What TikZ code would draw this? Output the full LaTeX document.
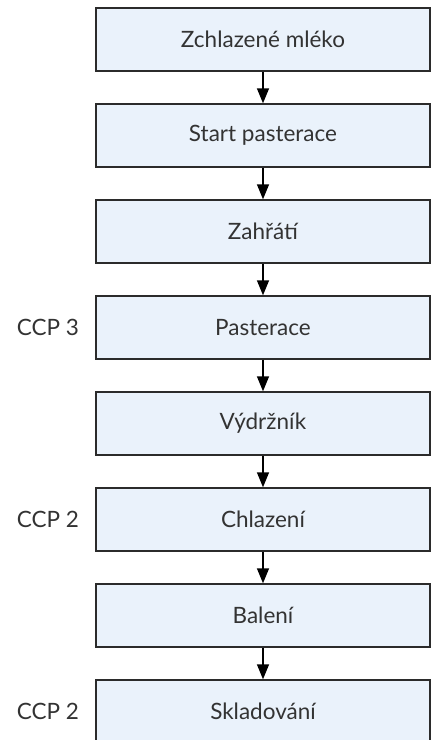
\documentclass[tikz,border=0pt]{standalone}
\usepackage{fontspec}
\setmainfont{Lato}
\usetikzlibrary{arrows.meta}

\definecolor{boxfill}{HTML}{EAF2FB}
\definecolor{boxline}{HTML}{2B2B2B}
\definecolor{txt}{HTML}{333333}

\begin{document}
\begin{tikzpicture}[
            x=1pt, y=-1pt,
            step box/.style={
              draw=boxline,
              line width=1.4pt,
              rectangle,
              fill=boxfill,
              minimum width=334pt,
              minimum height=63pt,
              text=txt,
              font=\fontsize{22.5}{26}\selectfont,
            },
            ccp/.style={
              text=txt,
              font=\fontsize{22.5}{26}\selectfont,
            },
            >={Triangle[width=12pt,length=15pt]},
            line width=1.4pt,
          ]
          \useasboundingbox (0,0) rectangle (438,740);
          \node[step box] at (263,39.5) (milk) {Zchlazené mléko} ;
          \node[step box] at (263,135.5) (start) {Start pasterace} ;
          \node[step box] at (263,231.5) (heat) {Zahřátí} ;
          \node[step box] at (263,327.5) (past) {Pasterace} ;
          \node[step box] at (263,423.5) (hold) {Výdržník} ;
          \node[step box] at (263,519.5) (cool) {Chlazení} ;
          \node[step box] at (263,615.5) (pack) {Balení} ;
          \node[step box] at (263,711.5) (store) {Skladování} ;
          \node[ccp] at (48,327.5) (ccpa) {CCP 3} ;
          \node[ccp] at (48,519.5) (ccpb) {CCP 2} ;
          \node[ccp] at (48,711.5) (ccpc) {CCP 2} ;
          \draw[->] (milk)--(start) ;
          \draw[->] (start)--(heat) ;
          \draw[->] (heat)--(past) ;
          \draw[->] (past)--(hold) ;
          \draw[->] (hold)--(cool) ;
          \draw[->] (cool)--(pack) ;
          \draw[->] (pack)--(store) ;
          \end{tikzpicture}
\end{document}
